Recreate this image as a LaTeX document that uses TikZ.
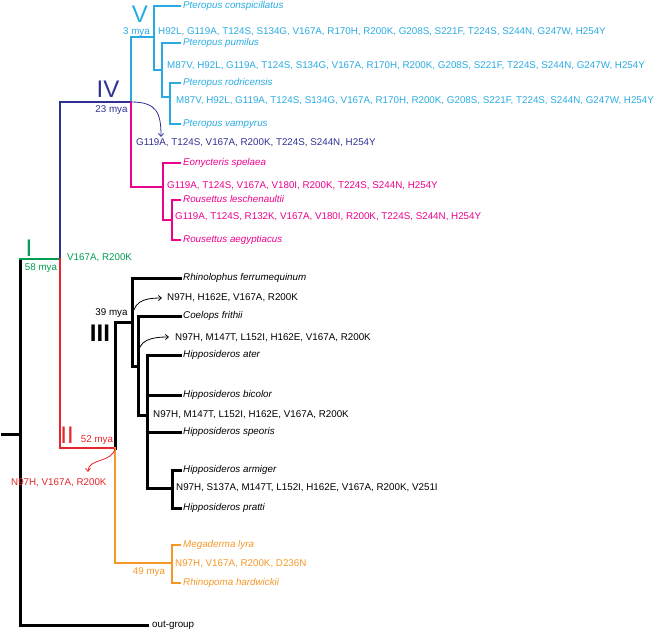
\documentclass[tikz,border=0pt]{standalone}
\usepackage{fontspec}
\setmainfont{Liberation Sans}
\usetikzlibrary{arrows.meta, positioning, calc}

\definecolor{cladeV}{RGB}{41,171,226}
\definecolor{cladeIV}{RGB}{46,49,146}
\definecolor{rousette}{RGB}{236,0,140}
\definecolor{cladeI}{RGB}{0,158,79}
\definecolor{cladeII}{RGB}{230,38,42}
\definecolor{yinpt}{RGB}{245,152,40}

\begin{document}
\begin{tikzpicture}[
        x=1pt, y=-1pt,
        branch/.style={line width=2.4pt, line cap=rect},
        blackBranch/.style={line width=3pt, line cap=rect},
        tipName/.style={inner sep=0pt, text height=7pt, text depth=2pt,
            font=\fontsize{9.8}{11}\selectfont\itshape},
        muts/.style={anchor=west, inner sep=0pt, text height=7pt, text depth=0pt,
            font=\fontsize{9.8}{11}\selectfont},
        age/.style={inner sep=0pt, text height=7pt, text depth=2pt,
            font=\fontsize{9.8}{11}\selectfont},
        cladeNum/.style={inner sep=0pt, font=\fontsize{24}{24}\selectfont},
        mutArrow/.style={line width=0.8pt, -{Straight Barb[length=3pt,width=5pt]}}
    ]
        \useasboundingbox (0,0) rectangle (661,632);

        % Internal nodes
        \coordinate (stem) at (2,434);
        \coordinate (root) at (20,434);
        \coordinate (rootTop) at (20,259);
        \coordinate (nI) at (60,259);
        \coordinate (nIV) at (131,102);
        \coordinate (nV) at (154,37);
        \coordinate (nV2) at (162,70);
        \coordinate (nV3) at (170,97);
        \coordinate (nRou) at (163,187);
        \coordinate (nRou2) at (172,220);
        \coordinate (nII) at (115,448);
        \coordinate (nIII) at (132,322);
        \coordinate (nCoel) at (138,366);
        \coordinate (nHipp) at (147,415);
        \coordinate (nArm) at (172,488);
        \coordinate (nYin) at (172,563);

        % Tips
        \coordinate (tConsp) at (180,6);
        \coordinate (tPum) at (180,43);
        \coordinate (tRod) at (180,83);
        \coordinate (tVamp) at (180,124);
        \coordinate (tEony) at (180,163);
        \coordinate (tLesch) at (180,200);
        \coordinate (tAegy) at (180,240);
        \coordinate (tRhin) at (180,278);
        \coordinate (tCoel) at (180,316);
        \coordinate (tAter) at (180,355);
        \coordinate (tBic) at (180,395);
        \coordinate (tSpe) at (180,432);
        \coordinate (tArm) at (180,470);
        \coordinate (tPra) at (180,508);
        \coordinate (tMeg) at (180,545);
        \coordinate (tRhp) at (180,583);
        \coordinate (tOut) at (147,625);

        % Branches
        \draw [blackBranch] (stem) -- (root);
        \draw [blackBranch] (rootTop) |- (tOut);
        \draw [branch, cladeI] (rootTop) -- (nI);
        \draw [branch, cladeIV] (nI) |- (nIV);
        \draw [branch, cladeII] (nI) |- (nII);

        \draw [branch, cladeV] (nIV) |- (nV);
        \draw [branch, cladeV] (nV) |- (tConsp);
        \draw [branch, cladeV] (nV) |- (nV2);
        \draw [branch, cladeV] (nV2) |- (tPum);
        \draw [branch, cladeV] (nV2) |- (nV3);
        \draw [branch, cladeV] (nV3) |- (tRod);
        \draw [branch, cladeV] (nV3) |- (tVamp);

        \draw [branch, rousette] (nIV) |- (nRou);
        \draw [branch, rousette] (nRou) |- (tEony);
        \draw [branch, rousette] (nRou) |- (nRou2);
        \draw [branch, rousette] (nRou2) |- (tLesch);
        \draw [branch, rousette] (nRou2) |- (tAegy);

        \draw [blackBranch] (nII) |- (nIII);
        \draw [blackBranch] (nIII) |- (tRhin);
        \draw [blackBranch] (nIII) |- (nCoel);
        \draw [blackBranch] (nCoel) |- (tCoel);
        \draw [blackBranch] (nCoel) |- (nHipp);
        \draw [blackBranch] (nHipp) |- (tAter);
        \draw [blackBranch] (nHipp) |- (tBic);
        \draw [blackBranch] (nHipp) |- (tSpe);
        \draw [blackBranch] (nHipp) |- (nArm);
        \draw [blackBranch] (nArm) |- (tArm);
        \draw [blackBranch] (nArm) |- (tPra);

        \draw [branch, yinpt] (nII) |- (nYin);
        \draw [branch, yinpt] (nYin) |- (tMeg);
        \draw [branch, yinpt] (nYin) |- (tRhp);

        % Species names
        \node [tipName, text=cladeV, right=3pt of tConsp] (lConsp) {Pteropus conspicillatus};
        \node [tipName, text=cladeV, right=3pt of tPum] (lPum) {Pteropus pumilus};
        \node [tipName, text=cladeV, right=3pt of tRod] (lRod) {Pteropus rodricensis};
        \node [tipName, text=cladeV, right=3pt of tVamp] (lVamp) {Pteropus vampyrus};
        \node [tipName, text=rousette, right=3pt of tEony] (lEony) {Eonycteris spelaea};
        \node [tipName, text=rousette, right=3pt of tLesch] (lLesch) {Rousettus leschenaultii};
        \node [tipName, text=rousette, right=3pt of tAegy] (lAegy) {Rousettus aegyptiacus};
        \node [tipName, right=3pt of tRhin] (lRhin) {Rhinolophus ferrumequinum};
        \node [tipName, right=3pt of tCoel] (lCoel) {Coelops frithii};
        \node [tipName, right=3pt of tAter] (lAter) {Hipposideros ater};
        \node [tipName, right=3pt of tBic] (lBic) {Hipposideros bicolor};
        \node [tipName, right=3pt of tSpe] (lSpe) {Hipposideros speoris};
        \node [tipName, right=3pt of tArm] (lArm) {Hipposideros armiger};
        \node [tipName, right=3pt of tPra] (lPra) {Hipposideros pratti};
        \node [tipName, text=yinpt, right=3pt of tMeg] (lMeg) {Megaderma lyra};
        \node [tipName, text=yinpt, right=3pt of tRhp] (lRhp) {Rhinopoma hardwickii};
        \node [tipName, font=\fontsize{9.8}{11}\selectfont, right=5pt of tOut] (lOut) {out-group};

        % Substitutions
        \node [muts, text=cladeV] (mV1) at (158,31) {H92L, G119A, T124S, S134G, V167A, R170H, R200K, G208S, S221F, T224S, S244N, G247W, H254Y};
        \node [muts, text=cladeV] (mV2) at (167,65) {M87V, H92L, G119A, T124S, S134G, V167A, R170H, R200K, G208S, S221F, T224S, S244N, G247W, H254Y};
        \node [muts, text=cladeV] (mV3) at (176,100) {M87V, H92L, G119A, T124S, S134G, V167A, R170H, R200K, G208S, S221F, T224S, S244N, G247W, H254Y};
        \node [muts, text=cladeIV] (mIV) at (136,142) {G119A, T124S, V167A, R200K, T224S, S244N, H254Y};
        \node [muts, text=rousette] (mRou1) at (167,185) {G119A, T124S, V167A, V180I, R200K, T224S, S244N, H254Y};
        \node [muts, text=rousette] (mRou2) at (175,216) {G119A, T124S, R132K, V167A, V180I, R200K, T224S, S244N, H254Y};
        \node [muts, text=cladeI] (mI) at (67,257) {V167A, R200K};
        \node [muts] (mIII) at (167,297) {N97H, H162E, V167A, R200K};
        \node [muts] (mCoel) at (175,337) {N97H, M147T, L152I, H162E, V167A, R200K};
        \node [muts] (mHipp) at (153,414) {N97H, M147T, L152I, H162E, V167A, R200K};
        \node [muts] (mArm) at (176,487) {N97H, S137A, M147T, L152I, H162E, V167A, R200K, V251I};
        \node [muts, text=cladeII] (mII) at (11,482) {N97H, V167A, R200K};
        \node [muts, text=yinpt] (mYin) at (175,563) {N97H, V167A, R200K, D236N};

        % Clade numbers and ages
        \node [cladeNum, text=cladeV] (numV) at (140,14) {V};
        \node [cladeNum, text=cladeIV] (numIV) at (108,89) {IV};
        \node [cladeNum, text=cladeI] (numI) at (29,248) {I};
        \node [cladeNum, text=cladeII] (numII) at (67,435) {II};
        \node [cladeNum, font=\fontsize{24}{24}\selectfont\bfseries] (numIII) at (100,333) {III};
        \node [age, text=cladeV] (ageV) at (136.5,32) {3 mya};
        \node [age, text=cladeIV] (ageIV) at (111.5,110) {23 mya};
        \node [age, text=cladeI] (ageI) at (41,268) {58 mya};
        \node [age, text=cladeII] (ageII) at (97,440) {52 mya};
        \node [age] (ageIII) at (111.5,313) {39 mya};
        \node [age, text=yinpt] (ageYin) at (149,572) {49 mya};

        % Arrows to substitutions
        \coordinate (aIV) at (161,137);
        \coordinate (aII) at (88,472);
        \coordinate (aIII) at (162,298);
        \coordinate (sCoel) at (138,356);
        \coordinate (aCoel) at (169,337);
        \draw [mutArrow, cladeIV] (nIV) .. controls +(26,0) and +(0,-24) .. (aIV);
        \draw [mutArrow, cladeII] (nII) .. controls +(-2,15) and +(0,-14) .. (aII);
        \draw [mutArrow] (nIII) .. controls +(0,-20) and +(-20,0) .. (aIII);
        \draw [mutArrow] (sCoel) .. controls +(0,-16) and +(-18,0) .. (aCoel);
    \end{tikzpicture}
\end{document}
